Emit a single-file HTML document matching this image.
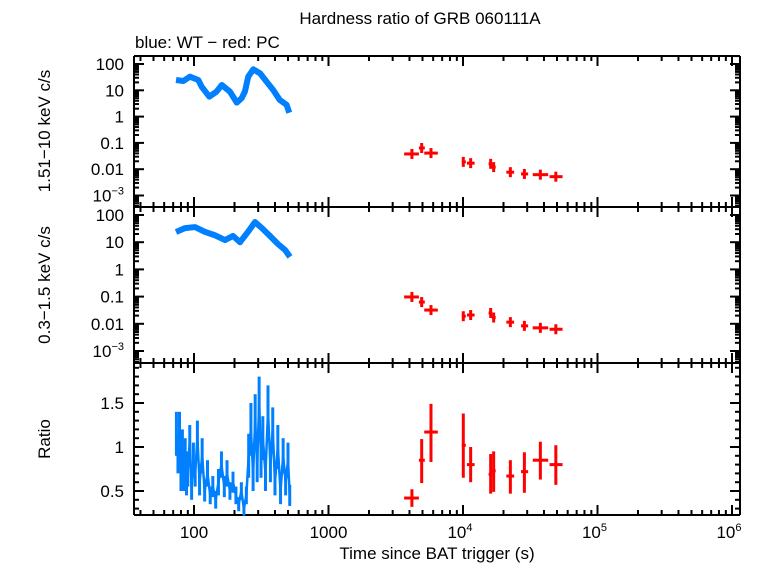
<!DOCTYPE html>
<html><head><meta charset="utf-8"><style>
body{margin:0;background:#fff}
svg{display:block;font-family:"Liberation Sans",sans-serif}
</style></head><body>
<svg id="c" width="763" height="566" viewBox="0 0 763 566">
<text x="420" y="24" font-size="17" text-anchor="middle">Hardness ratio of GRB 060111A</text>
<text x="135" y="48" font-size="17">blue: WT − red: PC</text>
<text transform="translate(50,131) rotate(-90)" font-size="17" text-anchor="middle">1.51−10 keV c/s</text>
<text transform="translate(50,285) rotate(-90)" font-size="17" text-anchor="middle">0.3−1.5 keV c/s</text>
<text transform="translate(50,439) rotate(-90)" font-size="17" text-anchor="middle">Ratio</text>
<text x="437" y="559" font-size="17" text-anchor="middle">Time since BAT trigger (s)</text>
<g id="g"></g>
</svg>
<script>
// WT hard-band rate
const wtHardT=[73.5,83.3,93.4,107.6,114,130,147,161,185,208,226,239,253,276,310,347,388,434,488,511];
const wtHardR=[24.6,22.6,33,24.6,13.7,5.7,8.9,15.9,8.9,3.4,5.0,8.9,33,63,44,21,10.3,4.3,2.8,1.4];
// WT soft-band rate
const wtSoftT=[73.5,85.7,101.7,120.7,143,170,195,220,252,284,320,367,421,475,517];
const wtSoftR=[23.7,33,36,24,18,12,17,10,24,55,33,17,8.6,5.2,2.9];
// WT ratio
const wtRatT=[74,76,78,80,82,84,86,88,90,93,96,99,102,106,110,115,120,126,132,138,145,152,160,168,176,185,195,205,215,225,235,245,255,265,275,285,295,305,315,325,340,355,370,385,400,420,440,460,480,500,515];
const wtRatV=[1.15,0.9,1.2,0.7,1.0,0.65,0.9,0.6,0.75,1.05,0.55,0.85,0.7,1.1,0.6,0.9,0.5,0.7,0.45,0.55,0.4,0.6,0.8,0.55,0.7,0.5,0.6,0.45,0.35,0.5,0.3,0.45,0.9,1.2,0.7,1.3,0.8,1.5,0.9,1.1,0.7,1.4,0.8,1.2,0.6,1.0,0.5,0.9,0.6,0.85,0.45];
const wtRatE=[0.25,0.2,0.2,0.2,0.2,0.15,0.2,0.15,0.2,0.2,0.15,0.2,0.15,0.2,0.15,0.2,0.12,0.15,0.1,0.12,0.1,0.15,0.15,0.12,0.15,0.1,0.12,0.1,0.08,0.1,0.08,0.1,0.25,0.3,0.2,0.3,0.2,0.3,0.25,0.25,0.2,0.3,0.2,0.25,0.15,0.25,0.15,0.2,0.15,0.2,0.12];
// PC points
const pcT=[4170,4930,5780,10050,11400,16060,16900,22500,28600,37600,49000];
const pcTlo=[3650,4700,5150,9800,10700,15500,16400,21000,27000,33000,44000];
const pcThi=[4700,5200,6500,10500,12200,16500,17500,24000,30500,43000,55000];
const pcHard=[0.038,0.064,0.041,0.019,0.017,0.016,0.012,0.0077,0.0066,0.0062,0.0052];
const pcSoft=[0.097,0.063,0.032,0.019,0.021,0.025,0.017,0.0115,0.0084,0.0071,0.0063];
const pcRat=[0.42,0.85,1.17,1.02,0.8,0.69,0.73,0.67,0.72,0.85,0.8];
const pcRatHi=[0.52,1.09,1.49,1.38,1.0,0.92,0.95,0.85,0.94,1.06,1.02];
const pcRatLo=[0.32,0.59,0.83,0.65,0.6,0.47,0.49,0.47,0.48,0.63,0.57];

const L=134,R=740;
const X=t=>194+(Math.log10(t)-2)*134.5;
const P1={top:56,bot:207,y:v=>64+(2-Math.log10(v))*26.3};
const P2={top:207,bot:363,y:v=>215+(2-Math.log10(v))*27.2};
const P3={top:363,bot:515,y:v=>447-(v-1)*88};
const g=document.getElementById('g');
const NS='http://www.w3.org/2000/svg';
function ln(x1,y1,x2,y2,c,w,name){const e=document.createElementNS(NS,'line');
e.setAttribute('x1',x1);e.setAttribute('y1',y1);e.setAttribute('x2',x2);e.setAttribute('y2',y2);
e.setAttribute('stroke',c);e.setAttribute('stroke-width',w);


g.appendChild(e);return e;}
function tx(x,y,s,anchor,name,sup){const e=document.createElementNS(NS,'text');
e.setAttribute('x',x);e.setAttribute('y',y);e.setAttribute('font-size','17');e.setAttribute('text-anchor',anchor);
e.textContent=s;
if(sup){const ts=document.createElementNS(NS,'tspan');ts.setAttribute('dy','-7');ts.setAttribute('font-size','11');ts.textContent=sup;e.appendChild(ts);}


g.appendChild(e);}
const panels=[P1,P2,P3];
panels.forEach((p,i)=>{
  // frame
  ln(L,p.top,R,p.top,'#000',2,'panel-frame');ln(L,p.bot,R,p.bot,'#000',2,'panel-frame');
  ln(L,p.top,L,p.bot,'#000',2,'panel-frame');ln(R,p.top,R,p.bot,'#000',2,'panel-frame');
  // x ticks
  for(let d=1;d<=6;d++){for(let m=1;m<10;m++){const t=m*Math.pow(10,d);const x=X(t);if(x<L||x>R)continue;
    const len=m===1?10:5;
    ln(x,p.bot,x,p.bot-len,'#000',2,'x-tick');ln(x,p.top,x,p.top+len,'#000',2,'x-tick');}}
});
// log y ticks
[P1,P2].forEach((p,i)=>{
  for(let d=-4;d<=2;d++){for(let m=1;m<10;m++){const v=m*Math.pow(10,d);const y=p.y(v);if(y<p.top||y>p.bot)continue;
    const len=m===1?10:5;
    ln(L,y,L+len,y,'#000',2,'y-tick');ln(R,y,R-len,y,'#000',2,'y-tick');}}
  const labs=[['100',2],['10',1],['1',0],['0.1',-1],['0.01',-2]];
  labs.forEach(l=>tx(124,p.y(Math.pow(10,l[1]))+6,l[0],'end','y-tick-label'));
  tx(124,p.y(0.001)+6,'10','end','y-tick-label','−3');
});
for(let v=0.3;v<=1.95;v+=0.1){const y=P3.y(v);const maj=Math.abs(v*2-Math.round(v*2))<0.01;
  ln(L,y,L+(maj?10:5),y,'#000',2,'y-tick');ln(R,y,R-(maj?10:5),y,'#000',2,'y-tick');}
[['1.5',1.5],['1',1],['0.5',0.5]].forEach(l=>tx(124,P3.y(l[1])+6,l[0],'end','y-tick-label'));
// x labels
tx(X(100),538,'100','middle','x-tick-label');tx(X(1000),538,'1000','middle','x-tick-label');
tx(X(1e4)-3,538,'10','middle','x-tick-label','4');tx(X(1e5)-3,538,'10','middle','x-tick-label','5');tx(X(1e6)-3,538,'10','middle','x-tick-label','6');
// WT series
const blue='#0080ff';
function poly(ts,vs,p,name,w){const e=document.createElementNS(NS,'polyline');
  e.setAttribute('points',ts.map((t,i)=>X(t)+','+p.y(vs[i])).join(' '));
  e.setAttribute('fill','none');e.setAttribute('stroke',blue);e.setAttribute('stroke-width',w);e.setAttribute('stroke-linejoin','round');
  
  
  g.appendChild(e);}
poly(wtHardT,wtHardR,P1,'wt-hard-series',6);
poly(wtSoftT,wtSoftR,P2,'wt-soft-series',6);
poly(wtRatT,wtRatV,P3,'wt-ratio-series',2.5);
wtRatT.forEach((t,i)=>ln(X(t),P3.y(wtRatV[i]+wtRatE[i]),X(t),P3.y(wtRatV[i]-wtRatE[i]),blue,3,'wt-ratio-errbar'));
// PC series
const red='#ff0000';
pcT.forEach((t,i)=>{
  ln(X(pcTlo[i]),P1.y(pcHard[i]),X(pcThi[i]),P1.y(pcHard[i]),red,3,'pc-hard-point');
  ln(X(t),P1.y(pcHard[i])-5,X(t),P1.y(pcHard[i])+5,red,3,'pc-hard-errbar');
  ln(X(pcTlo[i]),P2.y(pcSoft[i]),X(pcThi[i]),P2.y(pcSoft[i]),red,3,'pc-soft-point');
  ln(X(t),P2.y(pcSoft[i])-5,X(t),P2.y(pcSoft[i])+5,red,3,'pc-soft-errbar');
  ln(X(pcTlo[i]),P3.y(pcRat[i]),X(pcThi[i]),P3.y(pcRat[i]),red,3,'pc-ratio-point');
  ln(X(t),P3.y(pcRatHi[i]),X(t),P3.y(pcRatLo[i]),red,3,'pc-ratio-errbar');
});
</script>
</body></html>
